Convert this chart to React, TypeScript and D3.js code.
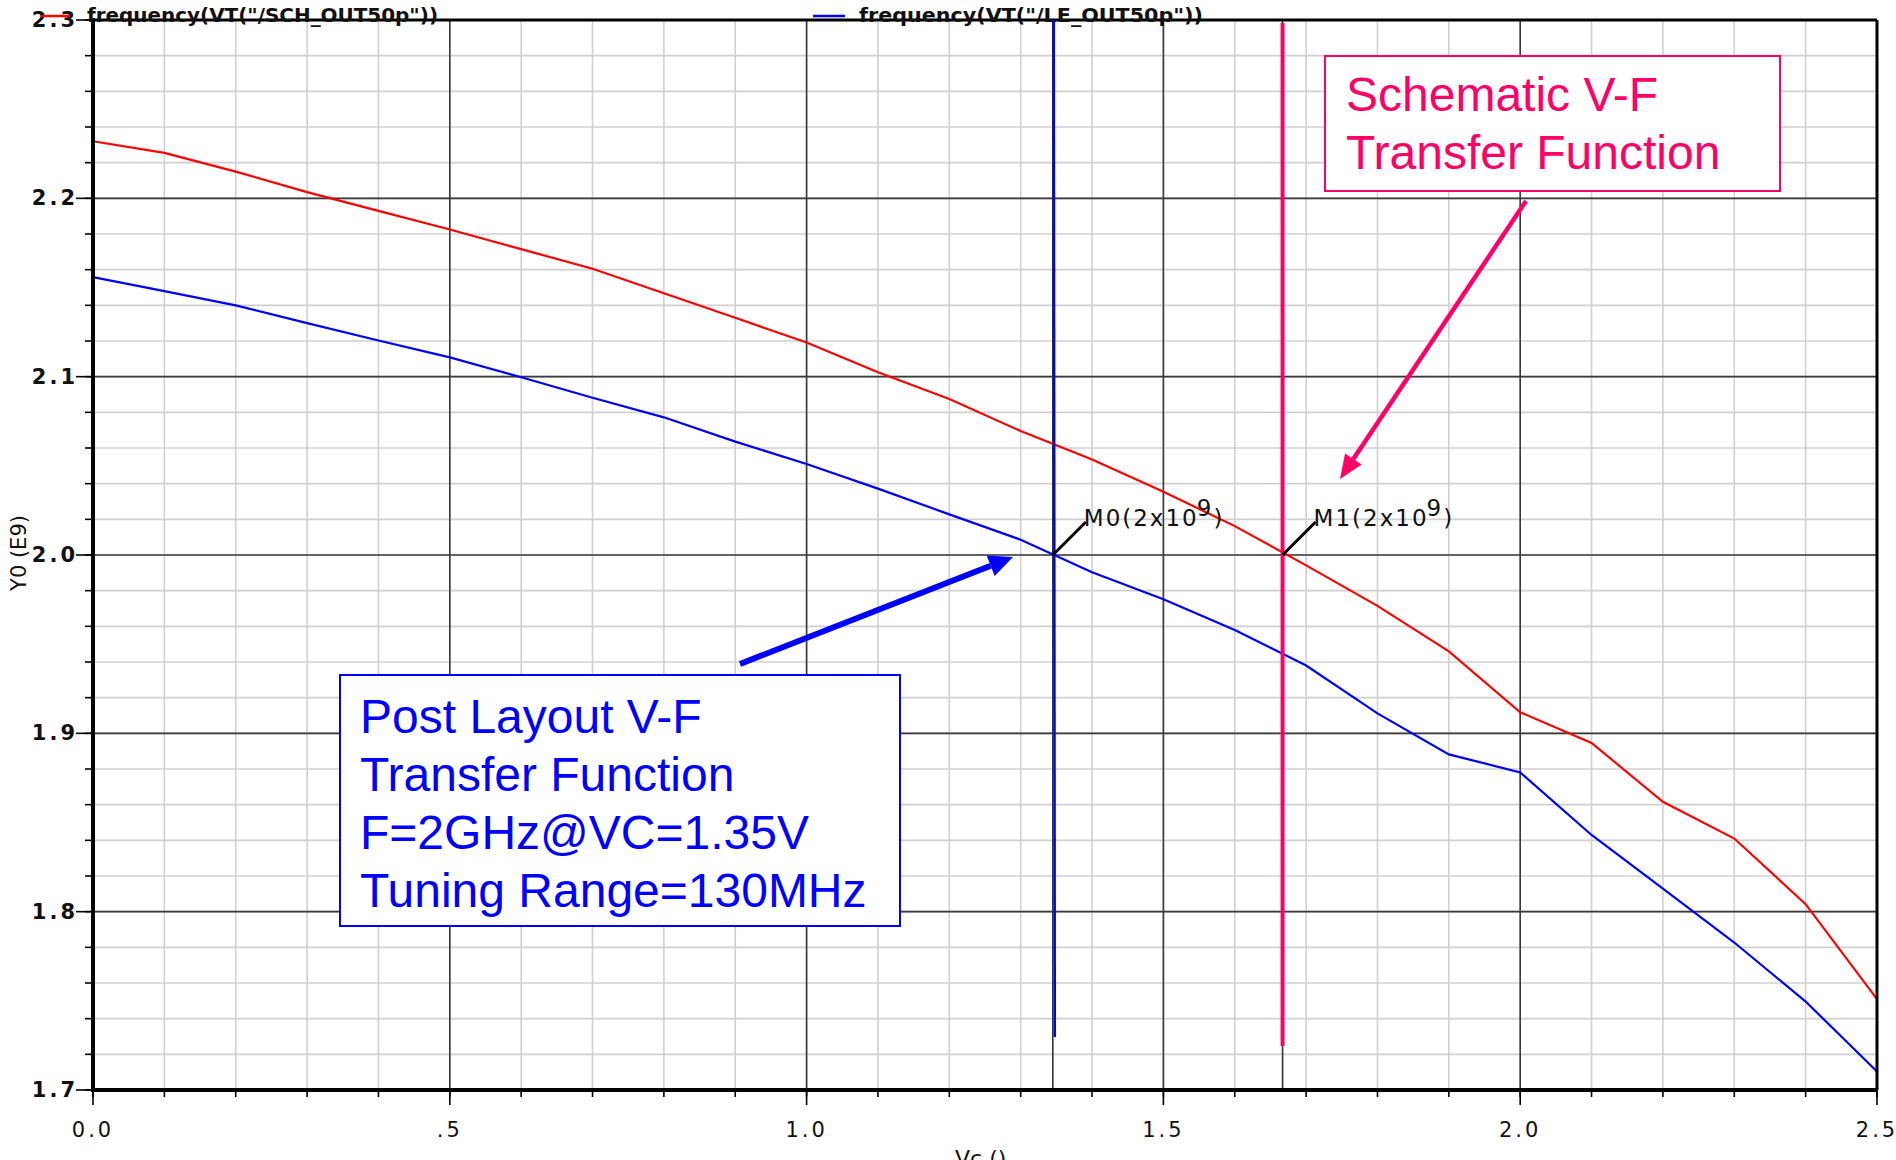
import React from "react";
import * as d3 from "d3";

// ---- data ----
const vcValues = [0, 0.1, 0.2, 0.3, 0.4, 0.5, 0.6, 0.7, 0.8, 0.9, 1.0, 1.1, 1.2, 1.3, 1.4, 1.5, 1.6, 1.7, 1.8, 1.9, 2.0, 2.1, 2.2, 2.3, 2.4, 2.5];
const schematicFreq = [2.232, 2.2255, 2.215, 2.2035, 2.193, 2.1825, 2.1715, 2.1605, 2.1468, 2.133, 2.1192, 2.1025, 2.0875, 2.0695, 2.0535, 2.0355, 2.0162, 1.9942, 1.9715, 1.946, 1.9118, 1.8946, 1.8616, 1.841, 1.8042, 1.751];
const postLayoutFreq = [2.1558, 2.148, 2.14, 2.13, 2.1203, 2.1108, 2.0997, 2.0882, 2.0772, 2.0636, 2.051, 2.0372, 2.0228, 2.0086, 1.9903, 1.9752, 1.958, 1.938, 1.9112, 1.8882, 1.8781, 1.843, 1.8129, 1.7827, 1.7496, 1.7104];
const xTickValues = [0, 0.5, 1.0, 1.5, 2.0, 2.5];
const xTickLabels = ["0.0", ".5", "1.0", "1.5", "2.0", "2.5"];
const yTickValues = [1.7, 1.8, 1.9, 2.0, 2.1, 2.2, 2.3];
const yTickLabels = ["1.7", "1.8", "1.9", "2.0", "2.1", "2.2", "2.3"];
const markerNames = ["M0", "M1"];
const markerVc = [1.345, 1.667];
const markerFreq = [2.0, 2.0];
const markerLabel = "(2x10";
const markerExp = "9";
const legendLabels = ['frequency(VT("/SCH_OUT50p"))', 'frequency(VT("/LE_OUT50p"))'];
const seriesColors = ["#ff0000", "#0000ff"];
const schematicNote = ["Schematic V-F", "Transfer Function"];
const postLayoutNote = ["Post Layout V-F", "Transfer Function", "F=2GHz@VC=1.35V", "Tuning Range=130MHz"];
const xTitle = "Vc ()";
const yTitle = "Y0 (E9)";

const W = 1896;
const H = 1160;
const PINK = "#ff0066";

function arrow(x1: number, y1: number, x2: number, y2: number, len: number, half: number) {
  const a = Math.atan2(y2 - y1, x2 - x1);
  const bx = x2 - len * Math.cos(a);
  const by = y2 - len * Math.sin(a);
  const px = -Math.sin(a) * half;
  const py = Math.cos(a) * half;
  return { bx, by, pts: `${x2},${y2} ${bx + px},${by + py} ${bx - px},${by - py}` };
}

export default function App() {
  const left = 93, right = 1877, top = 20, bottom = 1090;
  const x = d3.scaleLinear().domain([0, 2.5]).range([left, right]);
  const y = d3.scaleLinear().domain([1.7, 2.3]).range([bottom, top]);

  const xMinor = x.ticks(25);
  const yMinor = y.ticks(30);

  const line = d3
    .line<number>()
    .x((_, i) => x(vcValues[i]))
    .y((d) => y(d));

  const series = [schematicFreq, postLayoutFreq];

  const blueArrow = arrow(740, 664, 1013, 557, 24, 11);
  const pinkArrow = arrow(1526, 201, 1340, 479, 24, 10);

  return (
    <svg
      width={W}
      height={H}
      style={{ position: "absolute", left: 0, top: 0, background: "#fff" }}
      fontFamily="DejaVu Sans"
    >
      <rect x={0} y={0} width={W} height={H} fill="#fff" />
      {/* minor grid */}
      {xMinor.map((v, i) => (
        <line key={"xm" + i} x1={x(v)} x2={x(v)} y1={top} y2={bottom} stroke="#d0d0d0" strokeWidth={1.6} />
      ))}
      {yMinor.map((v, i) => (
        <line key={"ym" + i} x1={left} x2={right} y1={y(v)} y2={y(v)} stroke="#d0d0d0" strokeWidth={1.6} />
      ))}
      {/* major grid */}
      {xTickValues.map((v, i) => (
        <line key={"xM" + i} x1={x(v)} x2={x(v)} y1={top} y2={bottom} stroke="#3a3a3a" strokeWidth={1.6} />
      ))}
      {yTickValues.map((v, i) => (
        <line key={"yM" + i} x1={left} x2={right} y1={y(v)} y2={y(v)} stroke="#3a3a3a" strokeWidth={1.6} />
      ))}
      {/* marker vertical lines */}
      {markerVc.map((v, i) => (
        <line key={"mv" + i} x1={x(v)} x2={x(v)} y1={top} y2={bottom} stroke="#333" strokeWidth={1.6} />
      ))}
      {/* curves */}
      {series.map((s, i) => (
        <path key={"s" + i} d={line(s) || ""} fill="none" stroke={seriesColors[i]} strokeWidth={2.2} />
      ))}
      {/* frame */}
      <line x1={left} x2={right} y1={top} y2={top} stroke="#000" strokeWidth={3} />
      <line x1={right} x2={right} y1={top} y2={bottom} stroke="#000" strokeWidth={3} />
      <line x1={left} x2={left} y1={top - 2} y2={bottom + 2} stroke="#000" strokeWidth={4} />
      <line x1={left - 2} x2={right} y1={bottom} y2={bottom} stroke="#000" strokeWidth={4} />
      {/* ticks */}
      {yMinor.map((v, i) => (
        <line key={"yt" + i} x1={left - 8} x2={left} y1={y(v)} y2={y(v)} stroke="#000" strokeWidth={1.6} />
      ))}
      {yTickValues.map((v, i) => (
        <line key={"yT" + i} x1={left - 17} x2={left} y1={y(v)} y2={y(v)} stroke="#000" strokeWidth={1.6} />
      ))}
      {xMinor.map((v, i) => (
        <line key={"xt" + i} x1={x(v)} x2={x(v)} y1={bottom} y2={bottom + 7} stroke="#000" strokeWidth={1.6} />
      ))}
      {xTickValues.map((v, i) => (
        <line key={"xT" + i} x1={x(v)} x2={x(v)} y1={bottom} y2={bottom + 15} stroke="#000" strokeWidth={1.6} />
      ))}
      {/* tick labels */}
      {yTickValues.map((v, i) => (
        <text key={"yl" + i} x={left - 15} y={y(v) + 7} textAnchor="end" fontSize={21} fontWeight="bold" letterSpacing={3} fill="#111">
          {yTickLabels[i]}
        </text>
      ))}
      {xTickValues.map((v, i) => (
        <text key={"xl" + i} x={x(v)} y={bottom + 47} textAnchor="middle" fontSize={21} letterSpacing={3} fill="#111">
          {xTickLabels[i]}
        </text>
      ))}
      {/* axis titles */}
      <text x={955} y={1166} fontSize={22} fill="#111">{xTitle}</text>
      <text transform={`translate(26,553) rotate(-90)`} textAnchor="middle" fontSize={21} fill="#111">{yTitle}</text>
      {/* legend */}
      <line x1={42} x2={69} y1={16} y2={16} stroke={seriesColors[0]} strokeWidth={2.5} />
      <text x={87} y={22} fontSize={19} fontWeight="bold" fill="#111" textLength={351} lengthAdjust="spacingAndGlyphs">{legendLabels[0]}</text>
      <line x1={813} x2={845} y1={16} y2={16} stroke={seriesColors[1]} strokeWidth={2.5} />
      <text x={859} y={22} fontSize={19} fontWeight="bold" fill="#111" textLength={344} lengthAdjust="spacingAndGlyphs">{legendLabels[1]}</text>
      {/* annotation colored vertical lines */}
      <line x1={x(markerVc[0]) + 1} x2={x(markerVc[0]) + 2} y1={top} y2={1037} stroke="#0000ff" strokeWidth={2.5} />
      <line x1={x(markerVc[1])} x2={x(markerVc[1])} y1={top + 3} y2={1046} stroke={PINK} strokeWidth={4} />
      {/* markers */}
      {markerVc.map((v, i) => {
        const mx = x(v), my = y(markerFreq[i]);
        return (
          <g key={"mk" + i}>
            <line x1={mx} y1={my} x2={mx + 33} y2={my - 33} stroke="#000" strokeWidth={3} />
            <text x={mx + 31} y={my - 29} fontSize={23} letterSpacing={2} fill="#111">
              {markerNames[i]}{markerLabel}
              <tspan dy={-10} dx={-2}>{markerExp}</tspan>
              <tspan dy={10} dx={0}>)</tspan>
            </text>
          </g>
        );
      })}
      {/* blue annotation */}
      <line x1={740} y1={664} x2={blueArrow.bx} y2={blueArrow.by} stroke="#0000ff" strokeWidth={6} />
      <polygon points={blueArrow.pts} fill="#0000ff" />
      <rect x={340} y={675} width={560} height={251} fill="#fff" stroke="#0000ff" strokeWidth={2} />
      {postLayoutNote.map((t, i) => (
        <text key={"pn" + i} x={360} y={733 + i * 58} fontFamily="Liberation Sans" fontSize={48} fill="#0000ff">{t}</text>
      ))}
      {/* pink annotation */}
      <line x1={1526} y1={201} x2={pinkArrow.bx} y2={pinkArrow.by} stroke={PINK} strokeWidth={4.5} />
      <polygon points={pinkArrow.pts} fill={PINK} />
      <rect x={1325} y={56} width={455} height={135} fill="#fff" stroke={PINK} strokeWidth={2} />
      {schematicNote.map((t, i) => (
        <text key={"sn" + i} x={1346} y={111 + i * 58} fontFamily="Liberation Sans" fontSize={48} fill={PINK}>{t}</text>
      ))}
    </svg>
  );
}
